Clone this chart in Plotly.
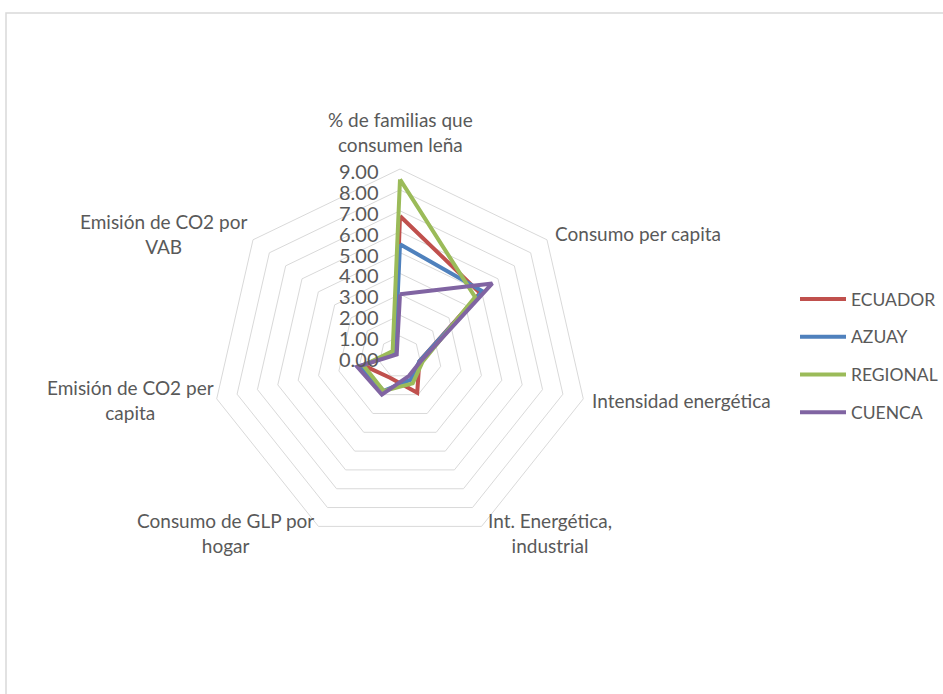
import plotly.graph_objects as go

# Radar axes (clockwise from the top)
categories = [
    "% de familias que consumen leña",
    "Consumo per capita",
    "Intensidad energética",
    "Int. Energética, industrial",
    "Consumo de GLP por hogar",
    "Emisión de CO2 per capita",
    "Emisión de CO2 por VAB",
]
category_labels = [
    "% de familias que<br>consumen leña",
    "Consumo per capita",
    "Intensidad energética",
    "Int. Energética,<br>industrial",
    "Consumo de GLP por<br>hogar",
    "Emisión de CO2 per<br>capita",
    "Emisión de CO2 por<br>VAB",
]

ecuador = [6.75, 4.9, 0.95, 1.9, 1.1, 1.8, 0.3]
azuay = [5.4, 5.05, 0.95, 1.2, 1.8, 1.95, 0.3]
regional = [8.5, 4.6, 1.1, 1.4, 1.8, 1.8, 0.45]
cuenca = [3.0, 5.65, 1.0, 1.0, 2.0, 2.1, 0.2]

radial_ticks = [0, 1, 2, 3, 4, 5, 6, 7, 8, 9]

series = [
    ("ECUADOR", ecuador, "#C0504D"),
    ("AZUAY", azuay, "#4F81BD"),
    ("REGIONAL", regional, "#9BBB59"),
    ("CUENCA", cuenca, "#8064A2"),
]

W, H = 943, 694
cx, cy, R = 400, 357, 188
FONT = "Lato, Carlito, Calibri, sans-serif"
GREY = "#595959"
GRID = "#D9D9D9"

fig = go.Figure()
for name, vals, color in series:
    fig.add_trace(go.Scatterpolar(
        r=vals + vals[:1],
        theta=categories + categories[:1],
        mode="lines",
        name=name,
        legendgroup=name,
        line=dict(color=color, width=4),
        hoverinfo="skip",
    ))

# Category names sit just outside each outer vertex, lines centred
# (pixel position, x anchor, y anchor)
label_pos = [
    ((400, 158), "center", "bottom"),
    ((553, 234), "left", "middle"),
    ((590, 400), "left", "middle"),
    ((486, 507), "left", "top"),
    ((316, 507), "right", "top"),
    ((216, 400), "right", "middle"),
    ((249, 234), "right", "middle"),
]
annotations = []
for text, ((px, py), xa, ya) in zip(category_labels, label_pos):
    annotations.append(dict(
        text=text, x=px / W, y=1 - py / H, xref="paper", yref="paper",
        xanchor=xa, yanchor=ya, align="center", showarrow=False,
        font=dict(family=FONT, size=19, color=GREY),
    ))

fig.update_layout(
    width=W, height=H,
    margin=dict(l=0, r=0, t=0, b=0),
    paper_bgcolor="white",
    plot_bgcolor="white",
    font=dict(family=FONT, color=GREY, size=19),
    annotations=annotations,
    polar=dict(
        domain=dict(x=[(cx - R) / W, (cx + R) / W],
                    y=[(H - cy - R) / H, (H - cy + R) / H]),
        bgcolor="white",
        gridshape="linear",
        angularaxis=dict(
            rotation=90,
            direction="clockwise",
            type="category",
            categoryorder="array",
            categoryarray=categories,
            showgrid=False,
            showline=True,
            linecolor=GRID,
            linewidth=1,
            ticks="",
            showticklabels=False,
        ),
        radialaxis=dict(
            range=[0, 9],
            tickvals=radial_ticks,
            tickformat=".2f",
            angle=90,
            side="counterclockwise",
            showline=False,
            showgrid=True,
            gridcolor=GRID,
            gridwidth=1,
            ticks="outside",
            ticklen=3,
            tickcolor="rgba(0,0,0,0)",
            tickfont=dict(family=FONT, size=20, color=GREY),
        ),
    ),
    legend=dict(
        x=795 / W, xanchor="left",
        y=1 - 355.5 / H, yanchor="middle",
        font=dict(family=FONT, size=17.5, color=GREY),
        itemwidth=46,
        tracegroupgap=12,
        traceorder="grouped",
        bgcolor="rgba(0,0,0,0)",
    ),
    shapes=[dict(
        type="rect", xref="paper", yref="paper",
        x0=6 / W, x1=1.05, y0=-0.05, y1=1 - 13 / H,
        line=dict(color=GRID, width=1.5),
        fillcolor="rgba(0,0,0,0)",
        layer="below",
    )],
)

fig.write_html("out.html")
